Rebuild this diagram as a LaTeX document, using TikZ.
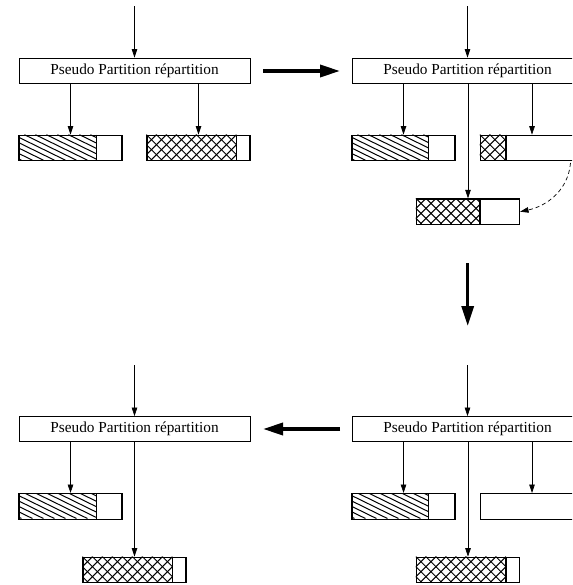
\documentclass[tikz,border=0pt]{standalone}
\usepackage{fontspec}
\setmainfont{Liberation Serif}
\usetikzlibrary{arrows.meta}

% diagonal stripes in the left part of a bar node (#1 = node, #2 = filled width)
\newcommand\stripefill[2]{%
  \begin{scope}
    \clip (#1.north west) rectangle ([xshift=#2]#1.south west);
    \foreach \k in {-60,-49,...,120}
      \draw[line width=1pt] ([xshift=\k pt]#1.north west) -- ++(52,25.5);
  \end{scope}
  \draw[line width=1.1pt] ([xshift=#2]#1.north west) -- ([xshift=#2]#1.south west);
}
% diamond cross-hatching in the left part of a bar node
\newcommand\crossfill[2]{%
  \begin{scope}
    \clip (#1.north west) rectangle ([xshift=#2]#1.south west);
    \foreach \k in {-30,-20,...,130} {
      \draw[line width=1pt] ([xshift=\k pt]#1.north west) -- ++(25.5,25.5);
      \draw[line width=1pt] ([xshift=\k pt]#1.north west) -- ++(-25.5,25.5);
    }
  \end{scope}
  \draw[line width=1.1pt] ([xshift=#2]#1.north west) -- ([xshift=#2]#1.south west);
}

\begin{document}
\begin{tikzpicture}[x=1pt,y=-1pt,
  stage/.style={draw, line width=0.8pt, minimum width=231pt, minimum height=25pt,
    inner sep=0pt, font=\fontsize{15.3}{18}\selectfont},
  bar/.style={draw, line width=1.1pt, minimum width=103pt, minimum height=25.5pt, inner sep=0pt},
  feed/.style={line width=0.7pt, -{Triangle[length=8.5pt,width=5.5pt]}},
  move/.style={line width=3.4pt, -{Triangle[length=20pt,width=12pt]}},
]
\useasboundingbox (0,0) rectangle (572,585);
\clip (0,0) rectangle (572,585);

% ---- stage 1 (top left)
\coordinate (in1) at (134.5,6.5);
\node[stage] (s1) at (134.5,70.5) {Pseudo Partition répartition};
\node[bar] (a1) at (70.5,148) {};
\node[bar] (b1) at (198.5,148) {};
\stripefill{a1}{78pt}
\crossfill{b1}{90pt}
\draw[feed] (in1) -- (s1.north);
\draw[feed] (s1.south -| a1.north) -- (a1.north);
\draw[feed] (s1.south -| b1.north) -- (b1.north);

% ---- stage 2 (top right)
\coordinate (in2) at (467.5,6.5);
\node[stage] (s2) at (467.5,70.5) {Pseudo Partition répartition};
\node[bar] (a2) at (403.5,148) {};
\node[bar] (b2) at (532,148) {};
\node[bar] (c2) at (468,211.7) {};
\stripefill{a2}{77pt}
\crossfill{b2}{26pt}
\crossfill{c2}{64pt}
\draw[feed] (in2) -- (s2.north);
\draw[feed] (s2.south -| a2.north) -- (a2.north);
\draw[feed] (s2.south -| b2.north) -- (b2.north);
\draw[feed] (s2.south -| c2.north) -- (c2.north);
\coordinate (d2) at (570.5,163);
\draw[feed, dash pattern=on 4pt off 3pt] (d2) to[out=-95, in=12] (c2.east);

% ---- stage 3 (bottom right)
\coordinate (in3) at (467.5,365);
\node[stage] (s3) at (467.5,429) {Pseudo Partition répartition};
\node[bar] (a3) at (403.5,506.3) {};
\node[bar] (b3) at (532,506.3) {};
\node[bar] (c3) at (468,570) {};
\stripefill{a3}{77pt}
\crossfill{c3}{90pt}
\draw[feed] (in3) -- (s3.north);
\draw[feed] (s3.south -| a3.north) -- (a3.north);
\draw[feed] (s3.south -| b3.north) -- (b3.north);
\draw[feed] (s3.south -| c3.north) -- (c3.north);

% ---- stage 4 (bottom left)
\coordinate (in4) at (134.5,365);
\node[stage] (s4) at (134.5,429) {Pseudo Partition répartition};
\node[bar] (a4) at (70.5,506.3) {};
\node[bar] (c4) at (134.5,570) {};
\stripefill{a4}{78pt}
\crossfill{c4}{90pt}
\draw[feed] (in4) -- (s4.north);
\draw[feed] (s4.south -| a4.north) -- (a4.north);
\draw[feed] (s4.south -| c4.north) -- (c4.north);

% ---- transitions between stages
\coordinate (m1) at (263,71);
\coordinate (m2) at (340,71);
\coordinate (m3) at (467.7,263);
\coordinate (m4) at (467.7,326);
\coordinate (m5) at (340,429);
\coordinate (m6) at (263,429);
\draw[move] (m1) -- (m2);
\draw[move] (m3) -- (m4);
\draw[move] (m5) -- (m6);
\end{tikzpicture}
\end{document}
